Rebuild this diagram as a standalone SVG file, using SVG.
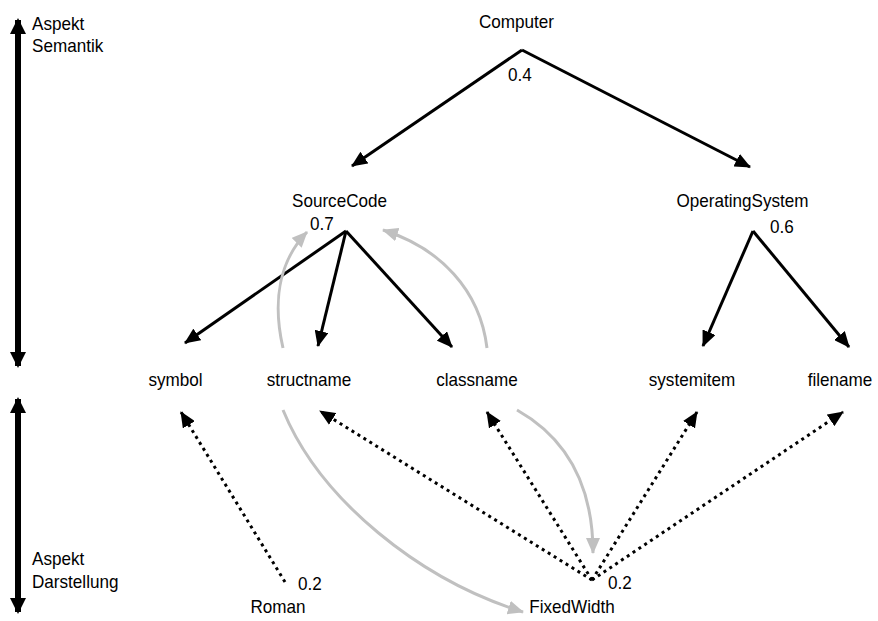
<svg xmlns="http://www.w3.org/2000/svg" width="878" height="621" viewBox="0 0 878 621">
<style>
text { font-family: "Liberation Sans", Arial, sans-serif; font-size: 19px; fill: #000; }
.c { text-anchor: middle; }
.b { fill: none; stroke: #000; stroke-width: 3; }
.g { fill: none; stroke: #c0c0c0; stroke-width: 3; }
.d { fill: none; stroke: #000; stroke-width: 3; stroke-dasharray: 3 4; }
</style>
<defs>
<marker id="ab" markerUnits="userSpaceOnUse" markerWidth="16" markerHeight="14" refX="15" refY="7" orient="auto">
<path d="M0,0 L16,7 L0,14 z" fill="#000"/>
</marker>
<marker id="ag" markerUnits="userSpaceOnUse" markerWidth="16" markerHeight="14" refX="15" refY="7" orient="auto">
<path d="M0,0 L16,7 L0,14 z" fill="#c0c0c0"/>
</marker>
<marker id="ax" markerUnits="userSpaceOnUse" markerWidth="16" markerHeight="16" refX="14" refY="8" orient="auto">
<path d="M0,0 L16,8 L0,16 z" fill="#000"/>
</marker>
</defs>
<rect width="878" height="621" fill="#fff"/>

<g id="axes">
<line x1="18" y1="360" x2="18" y2="20" stroke="#000" stroke-width="6" marker-end="url(#ax)"/>
<line x1="18" y1="26" x2="18" y2="366" stroke="#000" stroke-width="6" marker-end="url(#ax)"/>
<line x1="18" y1="600" x2="18" y2="399" stroke="#000" stroke-width="6" marker-end="url(#ax)"/>
<line x1="18" y1="410" x2="18" y2="612" stroke="#000" stroke-width="6" marker-end="url(#ax)"/>
</g>
<g id="label-semantik">
<text x="32" y="30" textLength="52.3" lengthAdjust="spacingAndGlyphs">Aspekt</text>
<text x="32" y="52" textLength="71.3" lengthAdjust="spacingAndGlyphs">Semantik</text>
</g>
<g id="label-darstellung">
<text x="32" y="565" textLength="52.3" lengthAdjust="spacingAndGlyphs">Aspekt</text>
<text x="32" y="588" textLength="86.5" lengthAdjust="spacingAndGlyphs">Darstellung</text>
</g>

<g id="connectors">
<path class="b" d="M522,50 L352,166" marker-end="url(#ab)"/>
<path class="b" d="M522,50 L750,167" marker-end="url(#ab)"/>
<path class="b" d="M346,231 L185,343" marker-end="url(#ab)"/>
<path class="b" d="M346,231 L318,346" marker-end="url(#ab)"/>
<path class="b" d="M346,231 L452,347" marker-end="url(#ab)"/>
<path class="b" d="M753,231 L703,346" marker-end="url(#ab)"/>
<path class="b" d="M753,231 L849,347" marker-end="url(#ab)"/>
<path class="g" d="M283,348 C272,300 280,260 307,232" marker-end="url(#ag)"/>
<path class="g" d="M487,348 C480,290 440,248 383,230" marker-end="url(#ag)"/>
<path class="g" d="M517,410 C570,440 593,490 593,553" marker-end="url(#ag)"/>
<path class="g" d="M283,410 C320,500 420,580 523,612" marker-end="url(#ag)"/>
<path class="d" d="M285,582 L181,412" marker-end="url(#ab)"/>
<path class="d" d="M592,580 L320,411" marker-end="url(#ab)"/>
<path class="d" d="M592,580 L487,412" marker-end="url(#ab)"/>
<path class="d" d="M592,580 L697,412" marker-end="url(#ab)"/>
<path class="d" d="M592,580 L843,412" marker-end="url(#ab)"/>
</g>

<g id="computer">
<text class="c" x="516.5" y="27.5" textLength="75.1" lengthAdjust="spacingAndGlyphs">Computer</text>
<text class="c" x="520" y="81" textLength="23.8" lengthAdjust="spacingAndGlyphs">0.4</text>
</g>
<g id="sourcecode">
<text class="c" x="339.5" y="206.5" textLength="95" lengthAdjust="spacingAndGlyphs">SourceCode</text>
<text x="310" y="230" textLength="23.8" lengthAdjust="spacingAndGlyphs">0.7</text>
</g>
<g id="operatingsystem">
<text class="c" x="742.5" y="206.5" textLength="132.1" lengthAdjust="spacingAndGlyphs">OperatingSystem</text>
<text x="770" y="233" textLength="23.8" lengthAdjust="spacingAndGlyphs">0.6</text>
</g>
<g id="symbol"><text class="c" x="175.5" y="386" textLength="54.2" lengthAdjust="spacingAndGlyphs">symbol</text></g>
<g id="structname"><text class="c" x="309" y="386" textLength="84.6" lengthAdjust="spacingAndGlyphs">structname</text></g>
<g id="classname"><text class="c" x="477" y="386" textLength="81.7" lengthAdjust="spacingAndGlyphs">classname</text></g>
<g id="systemitem"><text class="c" x="692" y="386" textLength="86.5" lengthAdjust="spacingAndGlyphs">systemitem</text></g>
<g id="filename"><text class="c" x="840" y="386" textLength="64.6" lengthAdjust="spacingAndGlyphs">filename</text></g>
<g id="roman">
<text x="298" y="590" textLength="23.8" lengthAdjust="spacingAndGlyphs">0.2</text>
<text class="c" x="278" y="613" textLength="55.1" lengthAdjust="spacingAndGlyphs">Roman</text>
</g>
<g id="fixedwidth">
<text x="608" y="589" textLength="23.8" lengthAdjust="spacingAndGlyphs">0.2</text>
<text class="c" x="572" y="613" textLength="85.5" lengthAdjust="spacingAndGlyphs">FixedWidth</text>
</g>
</svg>
